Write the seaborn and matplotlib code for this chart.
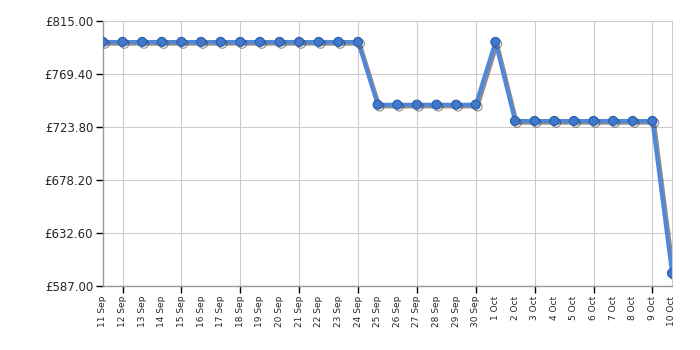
import matplotlib
matplotlib.use("Agg")
import matplotlib.pyplot as plt
import matplotlib.patheffects as pe
from matplotlib.ticker import FixedLocator, FixedFormatter
import seaborn as sns
import numpy as np
import pandas as pd

dates = [f"{d} Sep" for d in range(11, 31)] + [f"{d} Oct" for d in range(1, 11)]
prices = [797] * 14 + [743] * 6 + [797] + [729] * 8 + [598]
ytick_values = [587.00, 632.60, 678.20, 723.80, 769.40, 815.00]

df = pd.DataFrame({"i": np.arange(len(dates)), "price": prices, "date": dates})

sns.set_style("white")
plt.rcParams["font.family"] = ["DejaVu Sans"]

fig = plt.figure(figsize=(7, 3.5), dpi=100)
ax = fig.add_axes([0.147, 0.183, 0.813, 0.757])

shadow = [pe.SimpleLineShadow(offset=(1.3, -1.3), shadow_color="#333333", alpha=0.55), pe.Normal()]
sns.lineplot(data=df, x="i", y="price", ax=ax, color="#4f88d8", linewidth=2.8,
             marker="o", markersize=6.5, markerfacecolor="#3f78cc",
             markeredgecolor="#2a5ca8", markeredgewidth=0.8,
             path_effects=shadow, zorder=3)

ax.set_xlim(0, len(dates) - 1)
ax.set_ylim(ytick_values[0], ytick_values[-1])

ax.xaxis.remove_overlapping_locs = False
major = list(range(1, len(dates), 3))
ax.xaxis.set_major_locator(FixedLocator(major))
ax.xaxis.set_major_formatter(FixedFormatter([""] * len(major)))
ax.xaxis.set_minor_locator(FixedLocator(list(range(len(dates)))))
ax.xaxis.set_minor_formatter(FixedFormatter(dates))
ax.tick_params(axis="x", which="major", direction="out", length=5, width=1, color="#000000", bottom=True)
ax.tick_params(axis="x", which="minor", length=0, pad=7, labelsize=6.5, labelrotation=90, bottom=True)

ax.set_yticks(ytick_values)
ax.set_yticklabels([f"£{v:.2f}" for v in ytick_values])
ax.tick_params(axis="y", direction="out", length=5, width=1, color="#000000", left=True, labelsize=8.5, pad=2)

ax.grid(True, which="major", axis="both", color="#cccccc", linewidth=0.8)
ax.set_axisbelow(True)
for s in ["left", "bottom"]:
    ax.spines[s].set_color("#999999")
    ax.spines[s].set_linewidth(1)
for s in ["top", "right"]:
    ax.spines[s].set_color("#cccccc")
    ax.spines[s].set_linewidth(0.8)

ax.set_xlabel("")
ax.set_ylabel("")

fig.savefig("out.png", dpi=100)
